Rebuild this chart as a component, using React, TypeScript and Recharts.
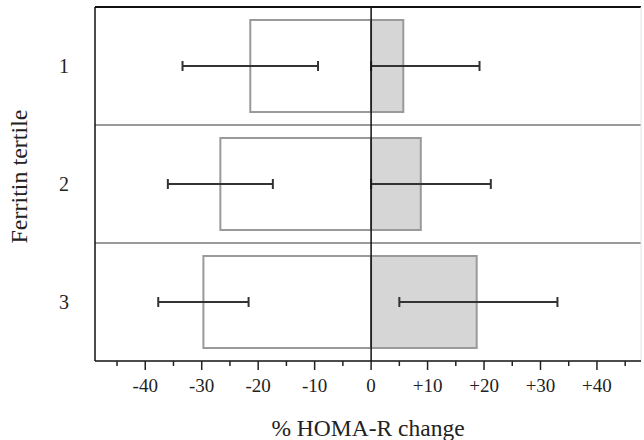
import React from 'react';
import {
  BarChart,
  Bar,
  XAxis,
  YAxis,
  ErrorBar,
  ReferenceLine,
} from 'recharts';

const tertiles = ['1', '2', '3'];
const whiteValues = [-21.4, -26.7, -29.7];
const whiteErrors = [12.0, 9.3, 8.0];
const greyValues = [5.7, 8.8, 18.7];
const greyErrLow = [5.7, 8.8, 13.7];
const greyErrHigh = [13.5, 12.4, 14.3];
const xTicks = [-45, -40, -35, -30, -25, -20, -15, -10, -5, 0, 5, 10, 15, 20, 25, 30, 35, 40, 45];
const xDomain: [number, number] = [-48.9, 47.8];
const xLabel = '% HOMA-R change';
const yLabel = 'Ferritin tertile';

const data = tertiles.map((t, i) => ({
  tertile: t,
  white: whiteValues[i],
  whiteErr: whiteErrors[i],
  grey: greyValues[i],
  greyErr: [greyErrLow[i], greyErrHigh[i]],
}));

const FONT = '"Liberation Serif", "DejaVu Serif", serif';

const fmt = (v: number) => (v > 0 ? `+${v}` : `${v}`);

const XTick = (props: any) => {
  const { x, y, payload } = props;
  const v = payload.value as number;
  const major = v % 10 === 0;
  return (
    <g>
      <line x1={x} x2={x} y1={y} y2={y + (major ? 9 : 5)} stroke="#222" strokeWidth={1.5} />
      {major && (
        <text x={x} y={y + 31} textAnchor="middle" fontFamily={FONT} fontSize={19} fill="#222">
          {fmt(v)}
        </text>
      )}
    </g>
  );
};

const YTick = (props: any) => {
  const { x, y, payload } = props;
  return (
    <text x={x} y={y + 7} textAnchor="end" fontFamily={FONT} fontSize={20} fill="#222">
      {payload.value}
    </text>
  );
};

const YLabel = (props: any) => {
  const vb = props.viewBox || { x: 0, y: 0, width: 0, height: 0 };
  const cx = vb.x + 27;
  const cy = vb.y + vb.height / 2 - 7.5;
  return (
    <text
      x={cx}
      y={cy}
      textAnchor="middle"
      transform={`rotate(-90, ${cx}, ${cy})`}
      fontFamily={FONT}
      fontSize={24}
      fill="#222"
    >
      {yLabel}
    </text>
  );
};

export default function App() {
  return (
    <div style={{ position: 'absolute', left: 0, top: 0, background: '#fff' }}>
      <BarChart
        width={644}
        height={440}
        data={data}
        layout="vertical"
        stackOffset="sign"
        barCategoryGap="11%"
        margin={{ top: 7, right: 3, bottom: 0, left: 0 }}
      >
        <XAxis
          type="number"
          domain={xDomain}
          ticks={xTicks}
          allowDataOverflow
          interval={0}
          axisLine={{ stroke: '#111', strokeWidth: 1.5 }}
          tickLine={false}
          tickSize={0}
          tickMargin={0}
          tick={<XTick />}
          height={79}
          label={{
            value: xLabel,
            position: 'insideBottom',
            offset: 4,
            style: { fontFamily: FONT, fontSize: 23.5, fill: '#222' },
          }}
        />
        <YAxis
          type="category"
          dataKey="tertile"
          width={95}
          axisLine={{ stroke: '#111', strokeWidth: 1.5 }}
          tickLine={false}
          tickSize={0}
          tickMargin={26}
          tick={<YTick />}
          label={{ content: <YLabel /> }}
        />
        <Bar
          dataKey="white"
          stackId="s"
          fill="#ffffff"
          stroke="#9a9a9a"
          strokeWidth={2}
          isAnimationActive={false}
        >
          <ErrorBar dataKey="whiteErr" direction="x" width={5} stroke="#333" strokeWidth={2} />
        </Bar>
        <Bar
          dataKey="grey"
          stackId="s"
          fill="#d6d6d6"
          stroke="#9a9a9a"
          strokeWidth={2}
          isAnimationActive={false}
        >
          <ErrorBar dataKey="greyErr" direction="x" width={5} stroke="#333" strokeWidth={2} />
        </Bar>
        {tertiles.slice(1).map((t) => (
          <ReferenceLine key={t} y={t} position="start" stroke="#9a9a9a" strokeWidth={2} />
        ))}
        <ReferenceLine y={tertiles[0]} position="start" stroke="#111" strokeWidth={2} />
        <ReferenceLine x={xDomain[1]} stroke="#e4e4e4" strokeWidth={1} />
        <ReferenceLine x={0} stroke="#111" strokeWidth={1.5} />
      </BarChart>
    </div>
  );
}
